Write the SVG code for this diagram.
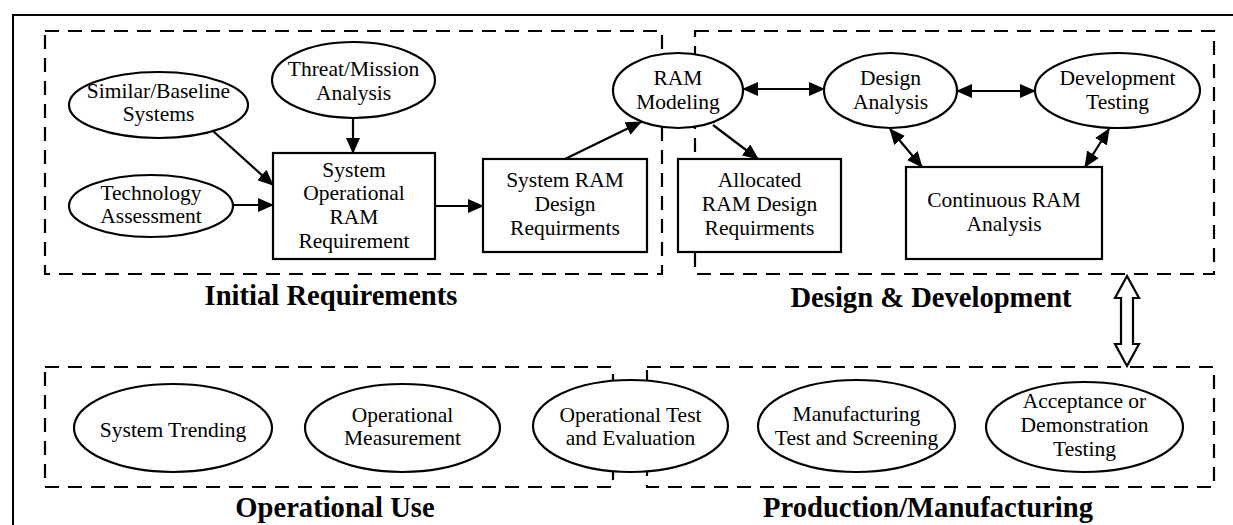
<svg xmlns="http://www.w3.org/2000/svg" width="1233" height="525" viewBox="0 0 1233 525">
<defs>
<style>
.frame{fill:none;stroke:#000;stroke-width:2}
.dash{fill:none;stroke:#000;stroke-width:2.2;stroke-dasharray:14 9}
.node{fill:#fff;stroke:#000;stroke-width:2.2}
.t{font-family:"Liberation Serif","Times New Roman",serif;font-size:21.5px;fill:#000;text-anchor:middle}
.lbl{font-family:"Liberation Serif","Times New Roman",serif;font-size:28.6px;font-weight:bold;fill:#000;text-anchor:middle}
.c{fill:none;stroke:#000;stroke-width:2.2}
.ar{marker-end:url(#ah)}
.ar2{marker-start:url(#ah);marker-end:url(#ah)}
</style>
<marker id="ah" viewBox="0 0 16 14" refX="15" refY="7" markerWidth="16" markerHeight="14" orient="auto-start-reverse" markerUnits="userSpaceOnUse">
<path d="M0,0 L16,7 L0,14 z" fill="#000"/>
</marker>
</defs>
<rect width="1233" height="525" fill="#fff"/>
<g id="frame">
<path class="frame" d="M13,525 L13,15 L1233,15"/>
</g>
<g id="groups">
<rect class="dash" x="45" y="31" width="617" height="243"/>
<rect class="dash" x="695" y="31" width="519" height="243"/>
<rect class="dash" x="45" y="367" width="568" height="120"/>
<rect class="dash" x="647" y="367" width="567" height="120"/>
<text class="lbl" x="331" y="305">Initial Requirements</text>
<text class="lbl" x="931" y="307">Design &amp; Development</text>
<text class="lbl" x="335" y="517">Operational Use</text>
<text class="lbl" x="928" y="517">Production/Manufacturing</text>
</g>
<g id="connectors">
<line class="c ar" x1="353" y1="119" x2="353" y2="153"/>
<line class="c ar" x1="213" y1="131" x2="273" y2="185"/>
<line class="c ar" x1="233" y1="205" x2="273" y2="205"/>
<line class="c ar" x1="435" y1="206" x2="483" y2="206"/>
<line class="c ar" x1="565" y1="159" x2="641" y2="122"/>
<line class="c ar" x1="713" y1="125" x2="758" y2="159"/>
<line class="c ar2" x1="743" y1="89" x2="824" y2="89"/>
<line class="c ar2" x1="957" y1="91" x2="1035" y2="91"/>
<line class="c ar2" x1="890" y1="129" x2="922" y2="167"/>
<line class="c ar2" x1="1109" y1="129" x2="1085" y2="167"/>
<polygon class="node" points="1127,276 1139,298 1133,298 1133,344 1139,344 1127,366 1115,344 1121,344 1121,298 1115,298"/>
</g>
<g id="similar">
<ellipse class="node" cx="158.5" cy="105" rx="89.5" ry="33"/>
<text class="t" x="158.5" y="98">Similar/Baseline</text>
<text class="t" x="158.5" y="121">Systems</text>
</g>
<g id="threat">
<ellipse class="node" cx="353.5" cy="80" rx="81.5" ry="38"/>
<text class="t" x="353.5" y="76">Threat/Mission</text>
<text class="t" x="353.5" y="100">Analysis</text>
</g>
<g id="technology">
<ellipse class="node" cx="151" cy="206" rx="82" ry="31"/>
<text class="t" x="151" y="200">Technology</text>
<text class="t" x="151" y="223">Assessment</text>
</g>
<g id="sysop">
<rect class="node" x="273" y="153" width="162" height="106"/>
<text class="t" x="354" y="177">System</text>
<text class="t" x="354" y="200">Operational</text>
<text class="t" x="354" y="224">RAM</text>
<text class="t" x="354" y="248">Requirement</text>
</g>
<g id="sysram">
<rect class="node" x="483" y="159" width="164" height="93"/>
<text class="t" x="565" y="187">System RAM</text>
<text class="t" x="565" y="211">Design</text>
<text class="t" x="565" y="235">Requirments</text>
</g>
<g id="rammodel">
<ellipse class="node" cx="678" cy="90.5" rx="65" ry="37.5"/>
<text class="t" x="678" y="85">RAM</text>
<text class="t" x="678" y="109">Modeling</text>
</g>
<g id="allocated">
<rect class="node" x="678" y="159" width="163" height="93"/>
<text class="t" x="759.5" y="187">Allocated</text>
<text class="t" x="759.5" y="211">RAM Design</text>
<text class="t" x="759.5" y="235">Requirments</text>
</g>
<g id="designanalysis">
<ellipse class="node" cx="890.5" cy="90.5" rx="66.5" ry="37.5"/>
<text class="t" x="890.5" y="85">Design</text>
<text class="t" x="890.5" y="109">Analysis</text>
</g>
<g id="devtesting">
<ellipse class="node" cx="1117.5" cy="90.5" rx="82.5" ry="37.5"/>
<text class="t" x="1117.5" y="85">Development</text>
<text class="t" x="1117.5" y="109">Testing</text>
</g>
<g id="continuous">
<rect class="node" x="906" y="167" width="196" height="92"/>
<text class="t" x="1004" y="207">Continuous RAM</text>
<text class="t" x="1004" y="231">Analysis</text>
</g>
<g id="trending">
<ellipse class="node" cx="173" cy="428" rx="99" ry="44"/>
<text class="t" x="173" y="437">System Trending</text>
</g>
<g id="opmeasure">
<ellipse class="node" cx="402.5" cy="428" rx="97.5" ry="44"/>
<text class="t" x="402.5" y="422">Operational</text>
<text class="t" x="402.5" y="445">Measurement</text>
</g>
<g id="optest">
<ellipse class="node" cx="630.5" cy="426" rx="97.5" ry="46"/>
<text class="t" x="630.5" y="422">Operational Test</text>
<text class="t" x="630.5" y="445">and Evaluation</text>
</g>
<g id="manufacturing">
<ellipse class="node" cx="856.5" cy="426" rx="98.5" ry="46"/>
<text class="t" x="856.5" y="421">Manufacturing</text>
<text class="t" x="856.5" y="445">Test and Screening</text>
</g>
<g id="acceptance">
<ellipse class="node" cx="1084.5" cy="427" rx="98.5" ry="45"/>
<text class="t" x="1084.5" y="408">Acceptance or</text>
<text class="t" x="1084.5" y="432">Demonstration</text>
<text class="t" x="1084.5" y="456">Testing</text>
</g>
</svg>
